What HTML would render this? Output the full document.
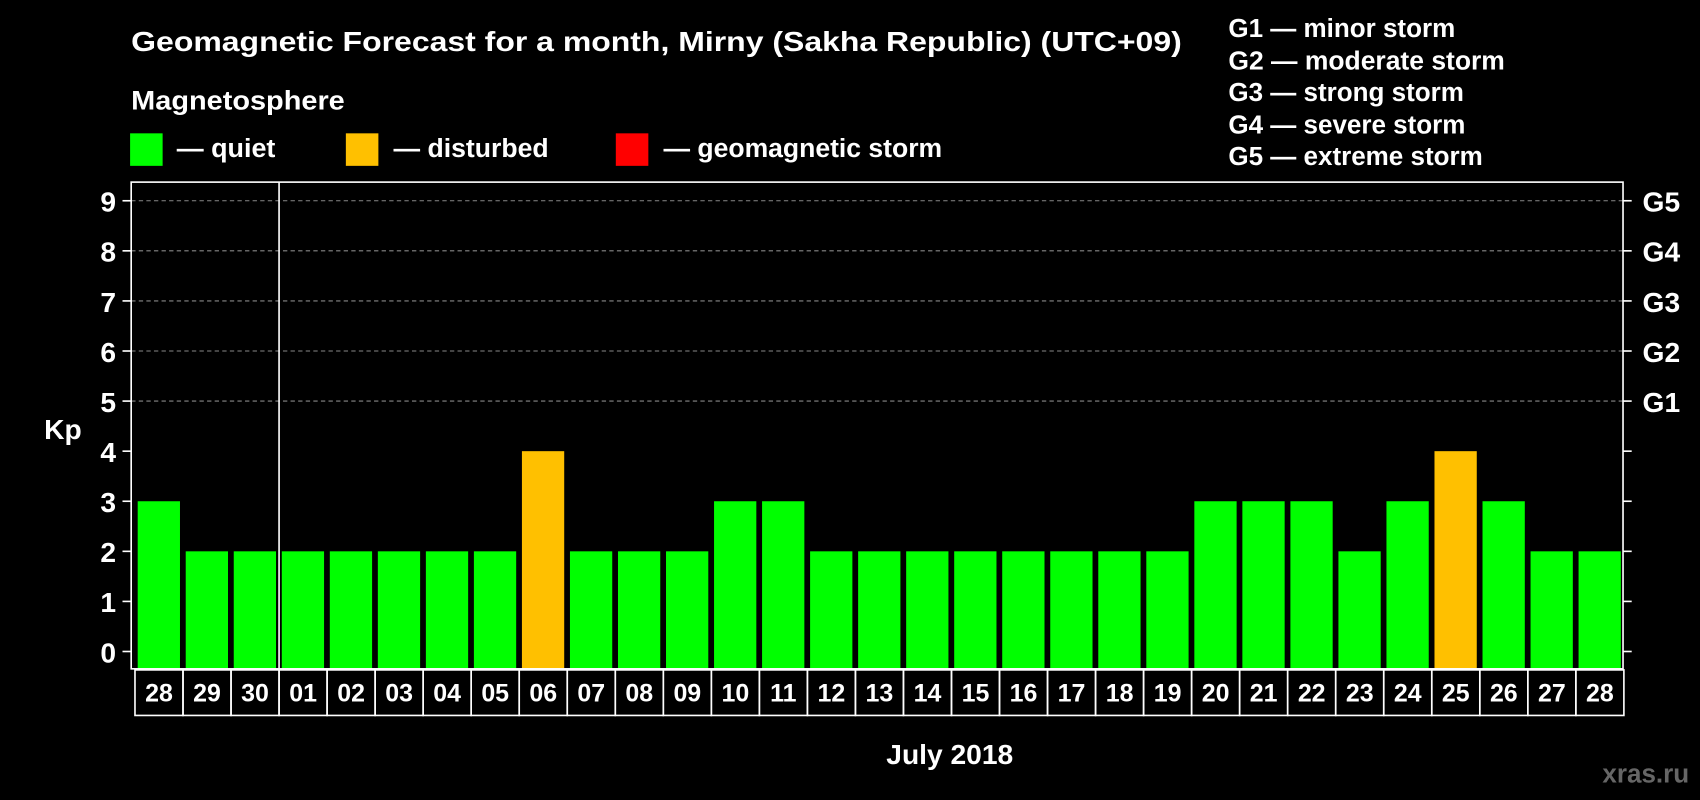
<!DOCTYPE html>
<html><head><meta charset="utf-8"><style>
html,body{margin:0;background:#000;}
svg{display:block;font-family:"Liberation Sans",Arial,sans-serif;font-weight:bold;}
</style></head><body>
<svg id="c" width="1700" height="800" viewBox="0 0 1568 738" preserveAspectRatio="none">
<text x="121" y="47" fill="#fff" font-size="26" textLength="969" lengthAdjust="spacingAndGlyphs">Geomagnetic Forecast for a month, Mirny (Sakha Republic) (UTC+09)</text>
<text x="121" y="101" fill="#fff" font-size="25" textLength="197" lengthAdjust="spacingAndGlyphs">Magnetosphere</text>
<rect x="120" y="123" width="30" height="30" fill="#00ff00"/>
<text x="163" y="145" fill="#fff" font-size="24" textLength="91" lengthAdjust="spacingAndGlyphs">— quiet</text>
<rect x="319" y="123" width="30" height="30" fill="#ffc000"/>
<text x="363" y="145" fill="#fff" font-size="24" textLength="143" lengthAdjust="spacingAndGlyphs">— disturbed</text>
<rect x="568" y="123" width="30" height="30" fill="#ff0000"/>
<text x="612" y="145" fill="#fff" font-size="24" textLength="257" lengthAdjust="spacingAndGlyphs">— geomagnetic storm</text>
<g fill="#fff" font-size="24">
<text x="1133" y="34">G1 — minor storm</text>
<text x="1133" y="64" textLength="255" lengthAdjust="spacingAndGlyphs">G2 — moderate storm</text>
<text x="1133" y="93">G3 — strong storm</text>
<text x="1133" y="123">G4 — severe storm</text>
<text x="1133" y="152">G5 — extreme storm</text>
</g>
<text x="58" y="405" fill="#fff" font-size="26" text-anchor="middle">Kp</text>
<text x="876" y="705" fill="#fff" font-size="26" text-anchor="middle">July 2018</text>
<text x="1558" y="722" fill="#666" font-size="24" text-anchor="end">xras.ru</text>
<g id="grid"></g><g id="bars"></g><g id="axes"></g>
</svg>
<script>
const days=["28","29","30","01","02","03","04","05","06","07","08","09","10","11","12","13","14","15","16","17","18","19","20","21","22","23","24","25","26","27","28"];
const kp=[3,2,2,2,2,2,2,2,4,2,2,2,3,3,2,2,2,2,2,2,2,2,3,3,3,2,3,4,3,2,2];
const yTicks=[0,1,2,3,4,5,6,7,8,9];
const gLabels=["G1","G2","G3","G4","G5"];
const NS="http://www.w3.org/2000/svg";
const L=121,R=1497,T=168,B=617,x0=124.5,step=44.3;
const y=v=>601-v*46.2;
const xs=i=>x0+i*step;
function mk(t,a,p){const e=document.createElementNS(NS,t);for(const k in a)e.setAttribute(k,a[k]);p.appendChild(e);return e;}
const grid=document.getElementById('grid'),bars=document.getElementById('bars'),axes=document.getElementById('axes');
yTicks.forEach(v=>{
 if(v>=5){const g=mk('line',{x1:L,x2:R,y1:y(v),y2:y(v),stroke:'#888','stroke-dasharray':'4,3','stroke-width':1},grid);
 
 }
 const t1=mk('line',{x1:L-8,x2:L,y1:y(v),y2:y(v),stroke:'#fff','stroke-width':1.5},axes);
 
 
 const t2=mk('line',{x1:R,x2:R+8,y1:y(v),y2:y(v),stroke:'#fff','stroke-width':1.5},axes);
 
 
 const tx=mk('text',{x:107,y:y(v)+10,fill:'#fff','font-size':26,'text-anchor':'end'},axes);tx.textContent=v;
 
 
});
gLabels.forEach((g,i)=>{const tx=mk('text',{x:1515,y:y(i+5)+10,fill:'#fff','font-size':26},axes);tx.textContent=g;
 
 });
kp.forEach((v,i)=>{
 const r=mk('rect',{x:xs(i)+2.5,y:y(v),width:39,height:B-y(v),fill:v>=5?'#ff0000':(v>=4?'#ffc000':'#00ff00')},bars);
 
 
});
const fr=mk('rect',{x:L,y:T,width:R-L,height:B-T,fill:'none',stroke:'#fff','stroke-width':1.5},axes);


const dv=mk('line',{x1:xs(3),x2:xs(3),y1:T,y2:B,stroke:'#fff','stroke-width':1.5},axes);


days.forEach((d,i)=>{
 const b=mk('rect',{x:xs(i),y:618,width:step,height:42,fill:'none',stroke:'#fff','stroke-width':1.5},axes);
 
 
 const t=mk('text',{x:xs(i)+step/2,y:647,fill:'#fff','font-size':23,'text-anchor':'middle'},axes);t.textContent=d;
 
 
});
</script>
</body></html>
